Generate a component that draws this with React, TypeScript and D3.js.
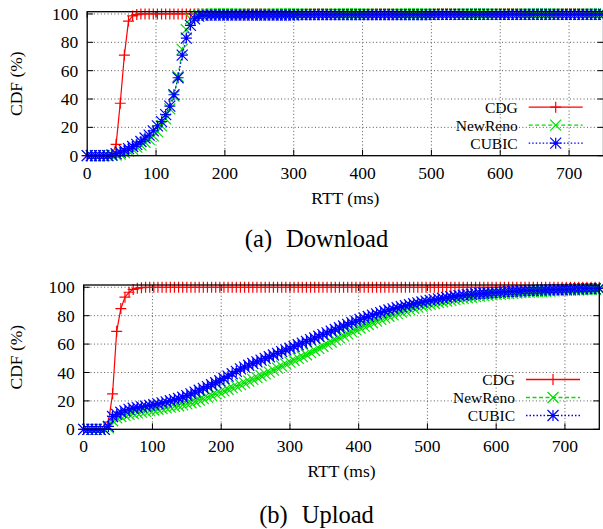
import React from "react";
import * as d3 from "d3";

// RTT sample points (ms)
const rttMs = [0,6,12,18,24,30,36,42,48,54,60,66,72,78,84,90,96,102,108,114,120,126,132,138,144,150,156,162,168,174,180,186,192,198,204,210,216,222,228,234,240,246,252,258,264,270,276,282,288,294,300,306,312,318,324,330,336,342,348,354,360,366,372,378,384,390,396,402,408,414,420,426,432,438,444,450,456,462,468,474,480,486,492,498,504,510,516,522,528,534,540,546,552,558,564,570,576,582,588,594,600,606,612,618,624,630,636,642,648,654,660,666,672,678,684,690,696,702,708,714,720,726,732,738,744,750];

// (a) Download CDF (%)
const downCdg = [0,0,0,0,0,0,0.5,8,37,71,95,98.6,99.6,100,100,100,100,100,100,100,100,100,100,100,100,100,100,100,100,100,100,100,100,100,100,100,100,100,100,100,100,100,100,100,100,100,100,100,100,100,100,100,100,100,100,100,100,100,100,100,100,100,100,100,100,100,100,100,100,100,100,100,100,100,100,100,100,100,100,100,100,100,100,100,100,100,100,100,100,100,100,100,100,100,100,100,100,100,100,100,100,100,100,100,100,100,100,100,100,100,100,100,100,100,100,100,100,100,100,100,100,100,100,100];
const downReno = [0,0,0,0,0,0,0,0.5,1.2,2.2,3.2,4.5,6,7.5,9.5,11.5,14,17,21,26,33,42,56,75,89,96.5,99,99.6,100,100,100,100,100,100,100,100,100,100,100,100,100,100,100,100,100,100,100,100,100,100,100,100,100,100,100,100,100,100,100,100,100,100,100,100,100,100,100,100,100,100,100,100,100,100,100,100,100,100,100,100,100,100,100,100,100,100,100,100,100,100,100,100,100,100,100,100,100,100,100,100,100,100,100,100,100,100,100,100,100,100,100,100,100,100,100,100,100,100,100,100,100,100,100,100,100,100];
const downCubic = [0,0,0,0,0,0,0.5,1.5,2.5,3.8,5,6.5,8,10,12.5,14.5,17.5,21,24,29,35,43,55,71,83,92,96.5,98.5,99,99.2,99.3,99.3,99.3,99.3,99.3,99.3,99.3,99.3,99.3,99.3,99.3,99.3,99.3,99.3,99.3,99.3,99.3,99.3,99.3,99.3,99.3,99.5,99.5,99.5,99.5,99.5,99.5,99.5,99.5,99.5,99.5,99.5,99.5,99.5,99.5,99.5,99.5,99.5,99.5,99.5,99.5,99.5,99.5,99.5,99.5,99.5,99.5,99.5,99.5,99.5,99.5,99.5,99.5,99.5,99.7,99.7,99.7,99.7,99.7,99.7,99.7,99.7,99.7,99.7,99.7,99.7,99.7,99.7,99.7,99.7,99.7,99.7,99.7,99.7,99.7,99.7,99.7,99.7,99.7,99.7,99.7,99.7,99.7,99.7,99.7,99.7,99.7,99.7,99.7,99.7,99.7,99.7,99.7,99.7,99.7,99.7];

// (b) Upload CDF (%)
const upCdg = [0,0,0,0,0,0,5,25,69,85,93,96.5,98.5,99.3,99.7,100,100,100,100,100,100,100,100,100,100,100,100,100,100,100,100,100,100,100,100,100,100,100,100,100,100,100,100,100,100,100,100,100,100,100,100,100,100,100,100,100,100,100,100,100,100,100,100,100,100,100,100,100,100,100,100,100,100,100,100,100,100,100,100,100,100,100,100,100,100,100,100,100,100,100,100,100,100,100,100,100,100,100,100,100,100,100,100,100,100,100,100,100,100,100,100,100,100,100,100,100,100,100,100,100,100,100,100,100,100,100];
const upReno = [0,0,0,0,0,0,1,6,8,9,9.8,10.5,11.1,11.6,12.1,12.6,13.1,13.6,14.1,14.6,15.1,15.6,16.1,16.6,17.2,17.9,18.7,19.6,20.6,21.6,22.7,23.8,24.9,26,27.1,28.2,29.3,30.4,31.5,32.7,33.9,35.1,36.4,37.7,39,40.3,41.7,43.1,44.5,45.9,47.3,48.6,49.9,51.2,52.5,54,55.5,57,58.5,60,61.5,63,64.4,65.8,67.2,68.6,70,71.3,72.6,73.8,75,76.2,77.4,78.5,79.6,80.6,81.6,82.6,83.5,84.4,85.2,86,86.7,87.4,88,88.6,89.2,89.8,90.3,90.8,91.3,91.8,92.2,92.6,93,93.4,93.8,94.1,94.4,94.7,95,95.2,95.4,95.6,95.8,96,96.2,96.4,96.6,96.7,96.9,97,97.2,97.3,97.5,97.6,97.7,97.8,97.9,98,98.1,98.2,98.3,98.4,98.5,98.6];
const upCubic = [0,0,0,0,0,0,2,9,10.5,12,13,14,14.8,15.3,15.8,16.3,16.8,17.3,17.9,18.6,19.3,20.1,20.9,21.7,22.6,23.7,24.9,26.2,27.5,28.8,30.1,31.4,32.8,34.2,35.8,37.4,39.1,40.8,42.5,43.8,45.1,46.3,47.5,48.7,49.9,51.1,52.3,53.5,54.7,55.9,57.1,58.3,59.5,60.7,61.9,63.1,64.3,65.5,66.7,67.9,69.1,70.3,71.5,72.7,73.9,75.1,76.2,77.3,78.4,79.4,80.4,81.3,82.2,83.1,84,84.8,85.6,86.3,87,87.7,88.4,89,89.6,90.2,90.8,91.3,91.8,92.3,92.8,93.3,93.7,94.1,94.5,94.8,95.1,95.4,95.6,95.8,96,96.2,96.4,96.6,96.8,97,97.1,97.3,97.4,97.6,97.7,97.8,97.9,98,98.1,98.2,98.3,98.4,98.5,98.6,98.7,98.8,98.8,98.9,99,99.1,99.1,99.2];

const seriesNames = ["CDG", "NewReno", "CUBIC"];
const xTicks = [0, 100, 200, 300, 400, 500, 600, 700];
const yTicks = [0, 20, 40, 60, 80, 100];

const FONT = "Liberation Serif, DejaVu Serif, serif";
const COLORS = ["#ff0000", "#00e000", "#0000ff"];
const DASHES = [null, "4,2.5", "1.5,2"];
const MS = 5.5;

function markerPath(kind: number, x: number, y: number, s: number) {
  const plus = `M${x - s},${y}H${x + s}M${x},${y - s}V${y + s}`;
  const cross = `M${x - s},${y - s}L${x + s},${y + s}M${x - s},${y + s}L${x + s},${y - s}`;
  if (kind === 0) return plus;
  if (kind === 1) return cross;
  return plus + cross;
}

type PanelProps = {
  x0: number; x1: number; yTop: number; yBottom: number;
  series: number[][];
  legendRight: number; legendY: number;
  xLabelY: number; yLabelX: number;
};

function Panel(p: PanelProps) {
  const x = d3.scaleLinear().domain([0, 750]).range([p.x0, p.x1]);
  const y = d3.scaleLinear().domain([0, 101.6]).range([p.yBottom, p.yTop]);
  const line = d3.line<number>().x((_, i) => x(rttMs[i])).y((d) => y(d));
  const tick = 6;
  return (
    <g>
      {xTicks.filter((t) => t > 0).map((t) => (
        <line key={"gx" + t} x1={x(t)} x2={x(t)} y1={p.yBottom} y2={p.yTop}
          stroke="#444" strokeWidth={0.9} strokeDasharray="1,2.4" />
      ))}
      {yTicks.filter((t) => t > 0).map((t) => (
        <line key={"gy" + t} x1={p.x0} x2={p.x1} y1={y(t)} y2={y(t)}
          stroke="#444" strokeWidth={0.9} strokeDasharray="1,2.4" />
      ))}
      {xTicks.map((t) => (
        <g key={"tx" + t}>
          <line x1={x(t)} x2={x(t)} y1={p.yBottom} y2={p.yBottom - tick} stroke="#000" />
          <line x1={x(t)} x2={x(t)} y1={p.yTop} y2={p.yTop + tick} stroke="#000" />
          <text x={x(t)} y={p.yBottom + 23} textAnchor="middle" fontSize={17.5} fontFamily={FONT}>{t}</text>
        </g>
      ))}
      {yTicks.map((t) => (
        <g key={"ty" + t}>
          <line x1={p.x0} x2={p.x0 + tick} y1={y(t)} y2={y(t)} stroke="#000" />
          <line x1={p.x1} x2={p.x1 - tick} y1={y(t)} y2={y(t)} stroke="#000" />
          <text x={p.x0 - 9} y={y(t)} dy="0.35em" textAnchor="end" fontSize={17.5} fontFamily={FONT}>{t}</text>
        </g>
      ))}
      {p.series.map((vals, si) => (
        <g key={"s" + si}>
          <path d={line(vals) || ""} fill="none" stroke={COLORS[si]} strokeWidth={1.2}
            strokeDasharray={DASHES[si] || undefined} />
          <path d={vals.map((v, i) => markerPath(si, x(rttMs[i]), y(v), MS)).join("")}
            fill="none" stroke={COLORS[si]} strokeWidth={1.2} />
        </g>
      ))}
      <rect x={p.x0} y={p.yTop} width={p.x1 - p.x0} height={p.yBottom - p.yTop}
        fill="none" stroke="#000" strokeWidth={1.3} />
      {seriesNames.map((n, si) => {
        const ly = p.legendY + (si - 1) * 18;
        const lx0 = p.legendRight + 11;
        const lx1 = lx0 + 54;
        return (
          <g key={"l" + si}>
            <text x={p.legendRight} y={ly} dy="0.35em" textAnchor="end" fontSize={15.5} fontFamily={FONT}>{n}</text>
            <line x1={lx0} x2={lx1} y1={ly} y2={ly} stroke={COLORS[si]} strokeWidth={1.3}
              strokeDasharray={DASHES[si] || undefined} />
            <path d={markerPath(si, (lx0 + lx1) / 2, ly, MS)} fill="none" stroke={COLORS[si]} strokeWidth={1.2} />
          </g>
        );
      })}
      <text x={(p.x0 + p.x1) / 2} y={p.xLabelY} textAnchor="middle" fontSize={17.5} fontFamily={FONT}>RTT (ms)</text>
      <text transform={`translate(${p.yLabelX},${(p.yTop + p.yBottom) / 2}) rotate(-90)`} dy="0.35em"
        textAnchor="middle" fontSize={17.5} fontFamily={FONT}>CDF (%)</text>
    </g>
  );
}

function Caption({ y, tag, label }: { y: number; tag: string; label: string }) {
  return (
    <text x={316.5} y={y} textAnchor="middle" fontSize={24.5} fontFamily={FONT}>
      <tspan>{tag}</tspan>
      <tspan dx={14}>{label}</tspan>
    </text>
  );
}

export default function App() {
  return (
    <svg width={603} height={529} style={{ position: "absolute", left: 0, top: 0, background: "#fff" }}>
      <rect width={603} height={529} fill="#fff" />
      <Panel x0={87.2} x1={603.5} yTop={11.7} yBottom={155.7}
        series={[downCdg, downReno, downCubic]}
        legendRight={517.7} legendY={125.2} xLabelY={204} yLabelX={15.5} />
      <Caption y={247} tag="(a)" label="Download" />
      <Panel x0={83.7} x1={599.3} yTop={285} yBottom={429.3}
        series={[upCdg, upReno, upCubic]}
        legendRight={515} legendY={397.5} xLabelY={477} yLabelX={15.5} />
      <Caption y={523} tag="(b)" label="Upload" />
    </svg>
  );
}
